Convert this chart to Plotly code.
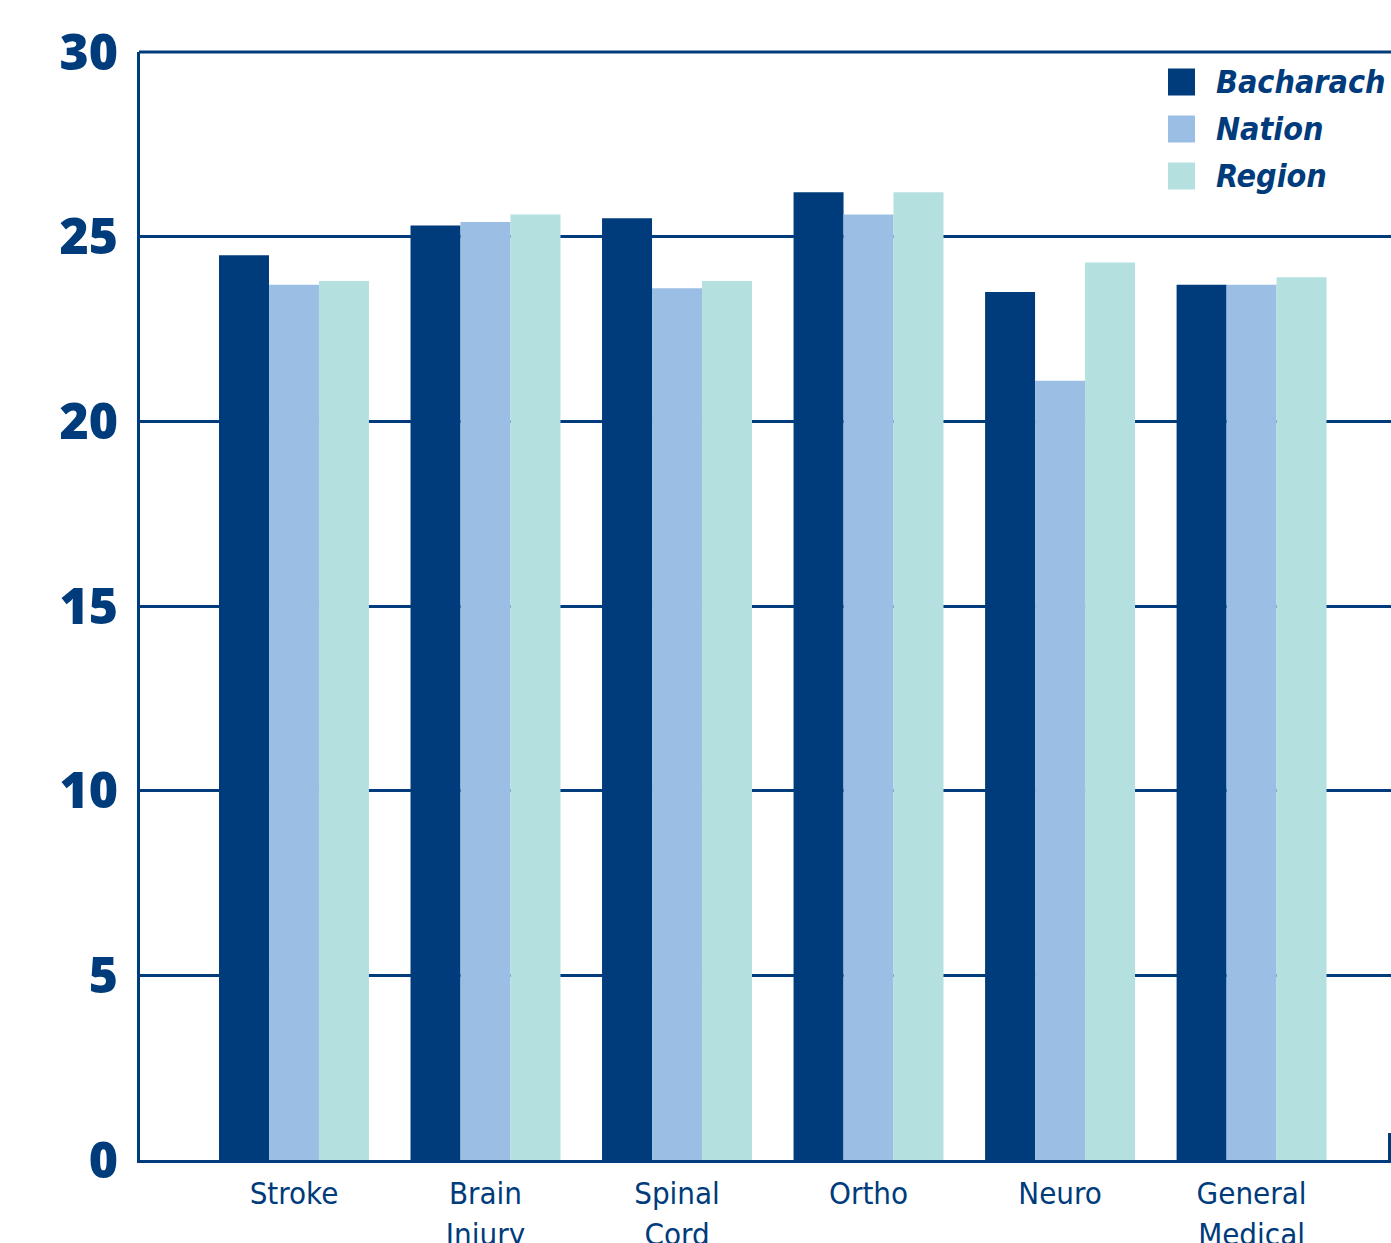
import plotly.graph_objects as go

categories = ["Stroke", "Brain<br>Injury", "Spinal<br>Cord", "Ortho", "Neuro", "General<br>Medical"]
series_names = ["Bacharach", "Nation", "Region"]
bacharach = [24.5, 25.3, 25.5, 26.2, 23.5, 23.7]
nation = [23.7, 25.4, 23.6, 25.6, 21.1, 23.7]
region = [23.8, 25.6, 23.8, 26.2, 24.3, 23.9]
y_ticks = [0, 5, 10, 15, 20, 25, 30]

colors = ["#003b7b", "#9bbfe4", "#b4e0e0"]
navy = "#003b7b"

W, H = 1391, 1243
L, R, T, B = 140, 0, 52, 83
pw, ph = W - L - R, H - T - B

xpos = list(range(len(categories)))
fig = go.Figure()
for name, vals, c in zip(series_names, [bacharach, nation, region], colors):
    fig.add_trace(go.Bar(x=xpos, y=vals, name=name, marker=dict(color=c, line=dict(width=0)),
                         showlegend=False))

fig.update_layout(
    width=W, height=H,
    margin=dict(l=L, r=R, t=T, b=B, autoexpand=False),
    paper_bgcolor="white", plot_bgcolor="white",
    barmode="group", bargap=0.217, bargroupgap=0,
    xaxis=dict(range=[-0.804, 5.728], tickvals=xpos, ticktext=categories, automargin=False,
               showgrid=False, zeroline=False, showline=True, linecolor=navy, linewidth=3,
               ticks="", ticklabelstandoff=4,
               tickfont=dict(family="DejaVu Sans Condensed", size=31, color=navy)),
    yaxis=dict(range=[0, 30], tickvals=y_ticks, showgrid=True, gridcolor=navy, gridwidth=3,
               automargin=False,
               zeroline=False, showline=True, linecolor=navy, linewidth=3, mirror=False,
               ticks="", ticklabelstandoff=9,
               tickfont=dict(family="Open Sans", size=50, color=navy, weight=800)),
)

def px_x(p):
    return (p - L) / pw

def px_y(p):
    return (H - B - p) / ph

# top frame line
fig.add_shape(type="line", xref="paper", yref="paper", x0=px_x(139), x1=1.0,
              y0=1.0, y1=1.0, line=dict(color=navy, width=3))

row_y = [82, 129, 176]
for name, c, yc in zip(series_names, colors, row_y):
    fig.add_shape(type="rect", xref="paper", yref="paper",
                  x0=px_x(1168), x1=px_x(1195), y0=px_y(yc + 13.5), y1=px_y(yc - 13.5),
                  fillcolor=c, line=dict(width=0))
    fig.add_annotation(xref="paper", yref="paper", x=px_x(1214), y=px_y(yc), xanchor="left",
                       yanchor="middle", showarrow=False, text="<b><i>%s</i></b>" % name,
                       font=dict(family="DejaVu Sans Condensed", size=32, color=navy))

# small right border stub near bottom
fig.add_shape(type="line", xref="paper", yref="paper", x0=px_x(1389.5), x1=px_x(1389.5),
              y0=px_y(1160), y1=px_y(1133), line=dict(color=navy, width=3))

fig.write_html("out.html", config={"displayModeBar": False},
               post_script="document.body.style.margin='0';document.body.style.overflow='hidden';")
